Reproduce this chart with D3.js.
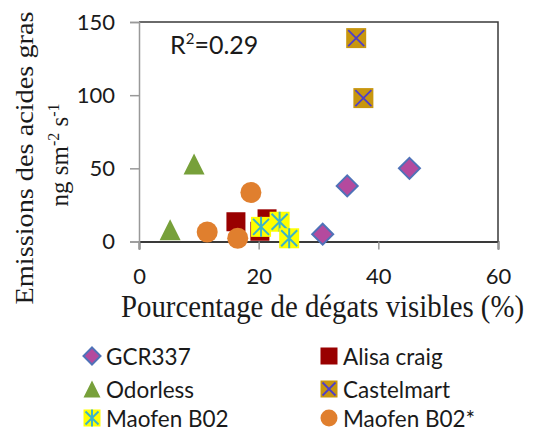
<!DOCTYPE html>
<html>
<head>
<meta charset="utf-8">
<script src="https://cdn.jsdelivr.net/npm/d3@7"></script>
<style>
  body { margin: 0; background: #fff; }
  svg { display: block; }
</style>
</head>
<body>
<svg id="chart" width="534" height="432"></svg>
<script>
// Series: [damage %, emission]
const seriesNames = ["GCR337", "Alisa craig", "Odorless", "Castelmart", "Maofen B02", "Maofen B02*"];
const gcr337 = [[30.7, 5], [34.8, 38], [45.2, 50]];
const alisaCraig = [[16.2, 13.5], [21.4, 15.5], [20.2, 7]];
const odorless = [[5.2, 8], [9.2, 53]];
const castelmart = [[36.3, 139], [37.5, 98]];
const maofenB02 = [[20.4, 10], [23.5, 13.5], [25.1, 2.2]];
const maofenB02s = [[18.7, 33.5], [11.4, 6.5], [16.5, 2.2]];
const xTicks = [0, 20, 40, 60];
const yTicks = [0, 50, 100, 150];
const r2Label = "0.29";

const svg = d3.select("#chart");
const plotLeft = 139, plotRight = 498, plotTop = 22, plotBottom = 241.5;
const x = d3.scaleLinear().domain([0, 60]).range([plotLeft, plotRight]);
const y = d3.scaleLinear().domain([0, 150]).range([plotBottom, plotTop]);
const sansFont = "Lato, 'Open Sans', sans-serif";
const serifFont = "'Liberation Serif', 'DejaVu Serif', serif";
const ink = "#1a1a1a";

// Plot frame: top and right edges
svg.append("path")
  .attr("d", `M${plotLeft},${plotTop}H${plotRight}V${plotBottom}`)
  .attr("fill", "none").attr("stroke", "#3a3a3a").attr("stroke-width", 1.5);

// Axes
const xAxis = svg.append("g").attr("transform", `translate(0,${plotBottom})`)
  .call(d3.axisBottom(x).tickValues(xTicks).tickSize(8).tickPadding(19));
const yAxis = svg.append("g").attr("transform", `translate(${plotLeft},0)`)
  .call(d3.axisLeft(y).tickValues(yTicks).tickSize(9).tickPadding(15));
[xAxis, yAxis].forEach(g => {
  g.selectAll("text").attr("font-family", sansFont).attr("font-size", 22).attr("fill", ink);
  g.selectAll(".tick line").attr("stroke", "#999").attr("stroke-width", 1.5);
});
xAxis.select(".domain").attr("stroke", "#3a3a3a").attr("stroke-width", 1.8);
yAxis.select(".domain").attr("stroke", "#999").attr("stroke-width", 1.5);

// Marker drawing helper
function marker(g, type, s) {
  const h = s / 2;
  if (type === "diamond") {
    g.append("path").attr("d", `M0,${-h}L${h},0L0,${h}L${-h},0Z`)
      .attr("fill", "#B44A9E").attr("stroke", "#4F72B8").attr("stroke-width", 2);
  } else if (type === "square") {
    g.append("rect").attr("x", -h).attr("y", -h).attr("width", s).attr("height", s).attr("fill", "#990000");
  } else if (type === "triangle") {
    g.append("path").attr("d", `M0,${-h}L${h},${h}L${-h},${h}Z`).attr("fill", "#77A03A");
  } else if (type === "xsquare") {
    g.append("rect").attr("x", -h).attr("y", -h).attr("width", s).attr("height", s).attr("fill", "#C8960E");
    const k = h - 2;
    g.append("path").attr("d", `M${-k},${-k}L${k},${k}M${k},${-k}L${-k},${k}`)
      .attr("stroke", "#4E3FC8").attr("stroke-width", 1.8);
  } else if (type === "star") {
    g.append("rect").attr("x", -h).attr("y", -h).attr("width", s).attr("height", s).attr("fill", "#FFFF00");
    const k = h - 2;
    g.append("path").attr("d", `M${-k},${-k}L${k},${k}M${k},${-k}L${-k},${k}M0,${-h}V${h}`)
      .attr("stroke", "#3CB3C8").attr("stroke-width", 2);
  } else if (type === "circle") {
    g.append("circle").attr("r", h).attr("fill", "#E07F2E");
  }
}

const series = [
  { name: seriesNames[0], data: gcr337, type: "diamond", size: 21 },
  { name: seriesNames[1], data: alisaCraig, type: "square", size: 19 },
  { name: seriesNames[2], data: odorless, type: "triangle", size: 21 },
  { name: seriesNames[3], data: castelmart, type: "xsquare", size: 20 },
  { name: seriesNames[4], data: maofenB02, type: "star", size: 20 },
  { name: seriesNames[5], data: maofenB02s, type: "circle", size: 21 }
];

series.forEach(s => {
  svg.append("g").selectAll("g").data(s.data).join("g")
    .attr("transform", d => `translate(${x(d[0])},${y(d[1])})`)
    .each(function () { marker(d3.select(this), s.type, s.size); });
});

// R² annotation
const r2 = svg.append("text").attr("x", 170).attr("y", 54)
  .attr("font-family", sansFont).attr("font-size", 25).attr("fill", ink);
r2.append("tspan").text("R");
r2.append("tspan").attr("dy", -10).attr("font-size", 15).text("2");
r2.append("tspan").attr("dy", 10).text("=" + r2Label);

// Axis titles
svg.append("text").attr("transform", "translate(322.5,317) scale(0.9,1)")
  .attr("text-anchor", "middle")
  .attr("font-family", serifFont).attr("font-size", 32).attr("fill", ink)
  .text("Pourcentage de dégats visibles (%)");

svg.append("text").attr("transform", "translate(33,158) rotate(-90) scale(1,0.88)")
  .attr("text-anchor", "middle").attr("font-family", serifFont).attr("font-size", 28.3).attr("fill", ink)
  .text("Emissions des acides gras");
const yt2 = svg.append("text").attr("transform", "translate(68,155) rotate(-90)")
  .attr("text-anchor", "middle").attr("font-family", serifFont).attr("font-size", 25).attr("fill", ink);
yt2.append("tspan").text("ng sm");
yt2.append("tspan").attr("dy", -9).attr("font-size", 16).text("-2");
yt2.append("tspan").attr("dy", 9).text(" s");
yt2.append("tspan").attr("dy", -9).attr("font-size", 16).text("-1");

// Legend: two columns, three rows
const legendCols = [92, 329];
const legendRows = [356, 389, 418];
series.forEach((s, i) => {
  const g = svg.append("g")
    .attr("transform", `translate(${legendCols[i % 2]},${legendRows[Math.floor(i / 2)]})`);
  marker(g, s.type, 17);
  g.append("text").attr("x", 14).attr("y", 8.5)
    .attr("font-family", sansFont).attr("font-size", 22.5).attr("fill", ink).text(s.name);
});
</script>
</body>
</html>
